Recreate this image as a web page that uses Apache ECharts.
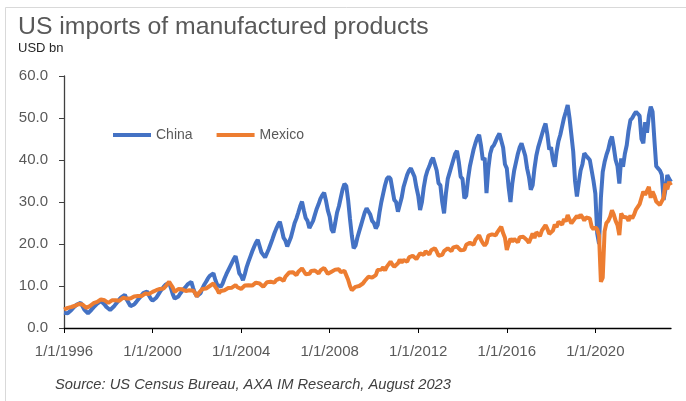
<!DOCTYPE html>
<html>
<head>
<meta charset="utf-8">
<script src="https://cdn.jsdelivr.net/npm/echarts@6/dist/echarts.min.js"></script>
<style>
html,body{margin:0;padding:0;background:#fff;}
#c{width:686px;height:401px;}
</style>
</head>
<body>
<div id="c"></div>
<script>
const startYear = 1996;
const tickLabels = ['1/1/1996','1/1/2000','1/1/2004','1/1/2008','1/1/2012','1/1/2016','1/1/2020'];
const seriesNames = ['China', 'Mexico'];
const yTicks = [0, 10, 20, 30, 40, 50, 60];

// Monthly values, Jan 1996 - Jun 2023 (USD bn)
const china = [
 3.6,3.3,3.5,3.9,4.3,4.8,5.2,5.6,5.9,6.0,5.2,4.4,
 4.0,3.5,3.8,4.4,4.9,5.3,5.8,6.1,6.4,6.5,5.6,5.0,
 4.7,4.3,4.6,5.1,5.7,6.2,6.8,7.3,7.7,7.9,6.8,6.0,
 5.2,5.3,5.6,6.1,6.7,7.2,7.8,8.3,8.6,8.7,7.8,7.0,
 6.5,6.6,7.2,7.9,8.6,9.2,9.8,10.3,10.6,10.8,9.4,8.0,
 7.0,6.7,7.5,8.2,8.8,9.3,9.8,10.4,10.8,11.0,9.5,8.3,
 7.6,7.5,8.3,9.4,10.3,11.0,11.8,12.4,12.8,13.0,11.5,10.3,
 10.0,9.8,10.6,11.8,12.8,13.7,14.6,15.5,16.4,17.1,15.2,13.0,
 12.4,11.4,12.8,14.5,15.8,17.0,18.2,19.3,20.3,21.0,19.5,18.0,
 17.8,16.8,17.2,18.8,20.0,21.2,22.5,23.6,24.6,25.3,23.5,21.5,
 20.8,19.4,19.8,21.6,23.3,25.0,26.1,27.5,29.0,30.1,28.0,26.2,
 25.5,23.8,24.0,25.5,27.0,28.4,29.5,30.8,31.6,32.2,30.3,28.0,
 26.5,23.5,22.7,25.0,27.5,29.0,31.0,33.0,34.3,33.8,30.5,26.0,
 22.0,19.0,19.6,21.5,23.0,24.5,26.0,27.5,28.5,28.9,27.0,25.5,
 25.0,23.7,24.5,27.5,30.0,32.0,34.0,35.5,36.0,35.5,33.0,30.5,
 30.0,27.7,28.1,31.0,33.5,35.0,36.5,37.5,38.0,38.3,36.0,33.5,
 31.5,28.1,30.0,33.5,36.0,37.5,38.5,39.8,40.5,40.8,37.5,34.5,
 34.0,30.0,27.3,32.0,35.5,37.0,38.5,40.0,41.5,42.2,39.5,36.0,
 35.5,30.9,31.5,35.5,38.5,40.5,42.5,44.0,45.3,46.0,43.5,40.0,
 40.5,32.1,38.0,41.5,43.0,43.5,44.5,45.5,46.3,46.5,43.0,39.0,
 38.0,33.5,30.0,34.5,37.5,39.5,41.5,43.0,44.0,44.4,41.0,38.0,
 36.0,32.9,34.0,38.0,41.0,43.0,44.5,46.0,47.5,48.7,46.0,42.5,
 43.0,40.0,38.4,42.0,44.5,46.0,48.0,50.0,51.5,53.1,50.0,46.0,
 42.0,35.0,31.3,34.5,37.5,39.0,41.6,41.0,40.5,40.0,37.5,35.0,
 32.0,22.5,20.0,31.0,37.2,39.5,41.2,42.5,44.5,45.6,43.0,40.0,
 38.5,34.4,40.4,38.4,41.5,43.5,47.0,49.5,50.0,50.8,51.5,51.0,
 50.5,45.0,44.0,49.0,46.5,50.5,52.7,51.5,44.8,38.5,38.0,37.5,
 36.5,30.5,33.0,36.4,35.5,34.8
];
const mexico = [
 4.4,4.6,4.8,4.9,5.0,5.2,5.3,5.5,5.7,5.9,5.6,5.2,
 4.8,4.7,5.2,5.6,5.9,6.1,6.2,6.5,6.8,7.1,6.6,6.2,
 6.0,6.3,6.6,6.7,6.6,6.9,6.5,6.9,7.2,7.4,7.0,6.8,
 7.0,7.2,7.5,7.4,7.6,7.8,7.6,8.0,8.2,8.3,8.1,8.3,
 8.6,8.8,9.0,9.2,9.3,9.6,9.4,9.9,10.3,11.0,10.3,9.6,
 8.6,8.8,9.3,9.0,9.2,9.1,8.8,9.2,9.0,9.4,8.9,8.4,
 7.5,8.3,8.8,9.3,9.5,9.4,9.6,10.0,10.3,10.6,9.8,9.2,
 8.3,8.8,9.2,9.0,9.3,9.5,9.2,9.6,9.9,10.2,9.7,9.3,
 9.3,9.6,10.1,9.9,10.2,10.4,10.1,10.5,10.8,11.0,10.6,10.2,
 9.8,10.2,10.9,10.6,11.0,11.3,10.8,11.4,11.6,11.8,11.5,11.2,
 12.2,12.6,13.2,12.8,13.3,13.0,12.6,13.4,13.8,14.2,13.5,12.8,
 12.4,12.9,13.6,13.2,13.7,13.5,13.0,13.7,13.9,14.3,13.6,12.9,
 12.7,13.4,13.8,13.9,14.2,14.0,13.3,13.7,13.6,13.8,11.5,10.0,
 9.0,9.2,9.8,9.5,10.0,10.4,10.6,11.2,11.5,12.2,11.8,12.0,
 11.6,12.6,13.8,13.4,13.9,14.5,13.7,14.6,15.2,15.8,15.1,14.6,
 14.8,15.4,16.3,15.6,16.2,16.5,15.8,16.8,17.0,17.2,16.8,16.4,
 16.6,17.8,18.2,17.4,18.3,18.0,17.5,18.5,18.4,19.0,18.2,17.2,
 17.6,17.4,18.3,18.6,19.0,18.7,18.3,19.2,19.0,19.4,19.1,18.5,
 18.4,18.6,19.8,19.6,20.3,20.1,19.8,21.0,21.4,22.1,21.0,20.2,
 19.6,20.2,22.0,21.6,22.3,22.7,22.1,22.9,23.5,24.1,22.6,21.5,
 18.6,20.0,21.3,20.6,21.2,21.5,20.4,21.6,21.8,21.7,21.4,20.9,
 20.3,20.6,22.5,21.4,22.8,22.6,21.9,23.2,23.5,24.5,23.6,22.4,
 22.8,23.2,24.6,24.0,25.3,25.0,24.6,25.9,25.4,26.9,25.8,24.9,
 25.5,25.3,26.7,26.2,27.0,26.4,25.6,26.3,25.9,26.1,24.1,23.5,
 24.0,23.5,22.0,11.0,12.0,23.0,25.0,25.5,26.5,28.0,27.0,25.5,
 24.5,22.1,27.3,26.5,26.8,26.3,25.5,26.8,26.1,27.0,28.2,28.5,
 29.5,29.8,32.5,31.7,32.0,33.6,31.0,32.5,31.5,30.1,30.5,29.3,
 29.3,31.0,34.4,33.0,34.8,34.0
];

const categories = [];
for (let i = 0; i < china.length; i++) {
  const y = startYear + Math.floor(i / 12);
  const m = (i % 12) + 1;
  categories.push(m + '/1/' + y);
}
const isTick = (idx) => tickLabels.indexOf(categories[idx]) >= 0;

const chart = echarts.init(document.getElementById('c'), null, {renderer: 'canvas'});
const font = "'Liberation Sans', Arial, sans-serif";
chart.setOption({
  animation: false,
  backgroundColor: '#ffffff',
  graphic: [
    {type: 'rect', shape: {x: 5.5, y: 7.5, width: 720, height: 420},
     style: {fill: 'none', stroke: '#D9D9D9', lineWidth: 1}},
    {type: 'text', left: 18, top: 15,
     style: {text: 'US imports of manufactured products', fill: '#595959', font: '24.8px ' + font}},
    {type: 'text', left: 18, top: 42,
     style: {text: 'USD bn', fill: '#262626', font: '13px ' + font}},
    {type: 'text', left: 55, top: 377,
     style: {text: 'Source: US Census Bureau, AXA IM Research, August 2023', fill: '#404040', font: 'italic 14.7px ' + font}}
  ],
  legend: {
    left: 108, top: 123,
    data: seriesNames,
    icon: 'rect',
    itemWidth: 38, itemHeight: 4,
    itemGap: 24,
    textStyle: {color: '#595959', fontSize: 14, fontFamily: font}
  },
  grid: {left: 64, right: 15, top: 76, bottom: 73, containLabel: false},
  xAxis: {
    type: 'category',
    data: categories,
    boundaryGap: false,
    axisLine: {lineStyle: {color: '#000000', width: 1.3}},
    axisTick: {show: true, length: 5, interval: (i) => isTick(i), lineStyle: {color: '#000000'}},
    axisLabel: {interval: (i) => isTick(i), color: '#595959', fontSize: 15, fontFamily: font, margin: 16},
    splitLine: {show: false}
  },
  yAxis: {
    type: 'value',
    min: yTicks[0], max: yTicks[yTicks.length - 1], interval: 10,
    axisLine: {show: true, lineStyle: {color: '#404040', width: 1.3}},
    axisTick: {show: true, length: 5, lineStyle: {color: '#404040'}},
    axisLabel: {color: '#595959', fontSize: 15, fontFamily: font, margin: 16, formatter: (v) => v.toFixed(1)},
    splitLine: {show: false}
  },
  series: [
    {name: seriesNames[0], type: 'line', data: china, showSymbol: false, symbol: 'none',
     lineStyle: {color: '#4472C4', width: 4}, itemStyle: {color: '#4472C4'}},
    {name: seriesNames[1], type: 'line', data: mexico, showSymbol: false, symbol: 'none',
     lineStyle: {color: '#ED7D31', width: 4}, itemStyle: {color: '#ED7D31'}}
  ]
});
</script>
</body>
</html>
